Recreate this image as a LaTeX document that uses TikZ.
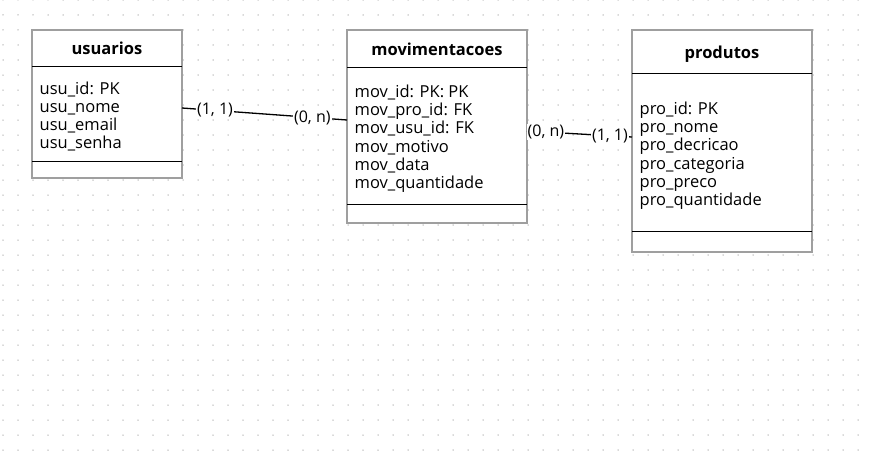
\documentclass[tikz,border=0pt]{standalone}
\usepackage{fontspec}
\setmainfont{Open Sans}

\begin{document}
\begin{tikzpicture}[x=1pt,y=-1pt,
    tabela/.style={draw=gray!75,line width=1.6pt,fill=white,inner sep=0pt,outer sep=0pt,anchor=north west},
    titulo/.style={font=\fontsize{16.5}{18}\selectfont\bfseries,anchor=base,inner sep=0pt},
    campo/.style={font=\fontsize{16.5}{18}\selectfont,anchor=base west,inner sep=0pt},
    card/.style={font=\fontsize{16}{18}\selectfont,fill=white,inner sep=1pt},
    divisa/.style={line width=0.9pt},
    liga/.style={line width=1.3pt}]
    \useasboundingbox (0,0) rectangle (869,460);
    % pontos da grade
    \foreach \i in {0,...,57}
        \foreach \j in {0,...,30}
            \fill[gray!60] (3+15*\i,15*\j) circle (0.75);

    % usuarios
    \node[tabela,minimum width=150,minimum height=148] (usuarios) at (32,30) {};
    \draw[divisa] ([yshift=-36pt]usuarios.north west) -- ([yshift=-36pt]usuarios.north east);
    \draw[divisa] ([yshift=-131pt]usuarios.north west) -- ([yshift=-131pt]usuarios.north east);
    \node[titulo] (usu-tit) at (107,55) {usuarios};
    \foreach \c [count=\k from 0] in {usu\_id: PK,usu\_nome,usu\_email,usu\_senha}
        \node[campo] (usu-\k) at (39.5,94+18.2*\k) {\c};

    % movimentacoes
    \node[tabela,minimum width=180,minimum height=193] (movimentacoes) at (347,30) {};
    \draw[divisa] ([yshift=-37pt]movimentacoes.north west) -- ([yshift=-37pt]movimentacoes.north east);
    \draw[divisa] ([yshift=-174pt]movimentacoes.north west) -- ([yshift=-174pt]movimentacoes.north east);
    \node[titulo] (mov-tit) at (437,55.5) {movimentacoes};
    \foreach \c [count=\k from 0] in {mov\_id: PK: PK,mov\_pro\_id: FK,mov\_usu\_id: FK,mov\_motivo,mov\_data,mov\_quantidade}
        \node[campo] (mov-\k) at (354.5,97.5+18.2*\k) {\c};

    % produtos
    \node[tabela,minimum width=180,minimum height=222] (produtos) at (632,30) {};
    \draw[divisa] ([yshift=-43pt]produtos.north west) -- ([yshift=-43pt]produtos.north east);
    \draw[divisa] ([yshift=-201pt]produtos.north west) -- ([yshift=-201pt]produtos.north east);
    \node[titulo] (pro-tit) at (722,58.3) {produtos};
    \foreach \c [count=\k from 0] in {pro\_id: PK,pro\_nome,pro\_decricao,pro\_categoria,pro\_preco,pro\_quantidade}
        \node[campo] (pro-\k) at (639.5,114.5+18.2*\k) {\c};

    % ligacoes
    \coordinate (usu-sai) at ([yshift=-4pt]usuarios.east);
    \coordinate (mov-entra) at ([yshift=6.5pt]movimentacoes.east -| movimentacoes.west);
    \coordinate (mov-sai) at ([yshift=-4.5pt]movimentacoes.east);
    \coordinate (pro-entra) at ([yshift=4pt]produtos.west);
    \draw[liga] (usu-sai) -- node[card,pos=0.2] (c1) {(1, 1)} node[card,pos=0.79] (c2) {(0, n)} (mov-entra);
    \draw[liga] (mov-sai) -- node[card,pos=0.18] (c3) {(0, n)} node[card,pos=0.79] (c4) {(1, 1)} (pro-entra);
\end{tikzpicture}
\end{document}
